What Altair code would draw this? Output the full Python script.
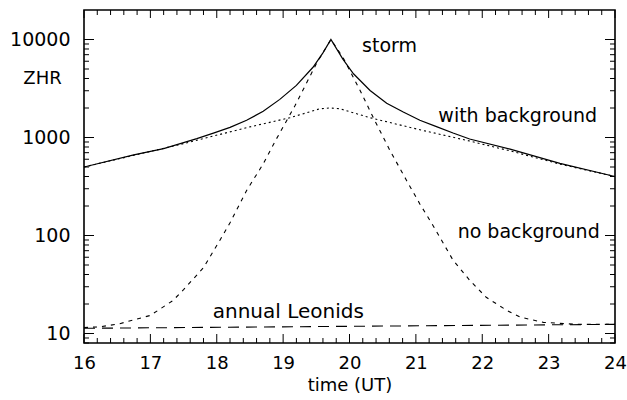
import altair as alt
import pandas as pd

# ZHR profiles of the Leonid storm (time in hours UT)
t_with = [16.0, 16.75, 17.2, 17.45, 17.7, 17.95, 18.2, 18.45, 18.7, 18.95, 19.2, 19.45,
          19.6, 19.72, 19.9, 20.06, 20.31, 20.56, 20.81, 21.06, 21.31, 21.56, 21.81,
          22.42, 23.17, 24.0]
zhr_with = [500, 665, 770, 865, 975, 1110, 1270, 1500, 1850, 2450, 3400, 5210,
            7300, 10000, 6300, 4470, 3020, 2240, 1820, 1500, 1290, 1110, 965,
            760, 545, 400]

t_bg = [16.0, 17.45, 18.45, 19.1, 19.55, 19.7, 19.85, 20.31, 21.06, 21.81,
        22.42, 23.17, 24.0]
zhr_bg = [500, 850, 1260, 1590, 1960, 2000, 1970, 1590, 1200, 920,
          730, 535, 400]

t_storm = [16.0, 16.24, 16.54, 17.0, 17.34, 17.5, 17.8, 18.05, 18.2, 18.45,
           18.7, 18.9, 19.18, 19.5, 19.72, 19.9, 20.16, 20.38, 20.61, 20.86,
           21.06, 21.26, 21.56, 21.81, 22.06, 22.37, 22.57, 22.92, 23.42, 24.0]
zhr_storm = [11.5, 11.7, 12.6, 15.3, 21.7, 28, 47, 90, 135, 288,
             538, 970, 2120, 5650, 10000, 6600, 3020, 1490, 736, 364,
             210, 126, 56, 35, 23.4, 17.2, 14.7, 13.0, 12.4, 12.4]

t_annual = [16.0, 24.0]
zhr_annual = [11.3, 12.4]

label_text = ["storm", "with background", "no background", "annual Leonids"]
label_t = [20.19, 23.73, 23.77, 17.94]
label_zhr = [8500, 1675, 108, 16.5]
label_align = ["left", "right", "right", "left"]
label_size = [19, 19, 19, 20]

x_major = [16, 17, 18, 19, 20, 21, 22, 23, 24]
x_minor = [round(h + f, 1) for h in range(16, 24) for f in (0.2, 0.4, 0.6, 0.8)]
y_major = [10, 100, 1000, 10000]
y_minor = [8, 9] + [m * d for d in (10, 100, 1000) for m in range(2, 10)]

W, H = 531, 333
FONT = "DejaVu Sans"

xscale = alt.Scale(domain=[16, 24], nice=False, zero=False)
yscale = alt.Scale(type="log", domain=[8, 20000], nice=False)


def series(t, z):
    return pd.DataFrame({"t": t, "zhr": z})


X = alt.X("t:Q", scale=xscale, axis=None)
Y = alt.Y("zhr:Q", scale=yscale, axis=None)
line_base = dict(color="black", clip=True)

solid = alt.Chart(series(t_with, zhr_with)).mark_line(strokeWidth=1.2, **line_base).encode(
    x=alt.X("t:Q", scale=xscale,
            axis=alt.Axis(orient="bottom", values=x_major, format="d", ticks=False,
                          domain=False, grid=False, labelFlush=False, labelOverlap=False,
                          labelFontSize=18, labelFont=FONT,
                          labelColor="black", labelPadding=11, title="time (UT)",
                          titleFont=FONT, titleFontSize=18, titleFontWeight="normal",
                          titleColor="black", titleBaseline="middle", titleY=42)),
    y=alt.Y("zhr:Q", scale=yscale,
            axis=alt.Axis(orient="left", values=y_major, format="d", ticks=False,
                          domain=False, grid=False, labelOverlap=False,
                          labelFontSize=19, labelFont=FONT,
                          labelColor="black", labelPadding=14, title="ZHR",
                          titleFont=FONT, titleFontSize=18, titleFontWeight="normal",
                          titleColor="black", titleAngle=0, titleAlign="center",
                          titleBaseline="middle", titleX=-42, titleY=68)),
    order="t:Q",
)

background = alt.Chart(series(t_bg, zhr_bg)).mark_line(
    strokeWidth=1.1, strokeDash=[2, 3], **line_base).encode(x=X, y=Y, order="t:Q")

storm = alt.Chart(series(t_storm, zhr_storm)).mark_line(
    strokeWidth=1.1, strokeDash=[4, 5], **line_base).encode(x=X, y=Y, order="t:Q")

annual = alt.Chart(series(t_annual, zhr_annual)).mark_line(
    strokeWidth=1.1, strokeDash=[11, 7], **line_base).encode(x=X, y=Y, order="t:Q")

labels_df = pd.DataFrame({"text": label_text, "t": label_t, "zhr": label_zhr,
                          "align": label_align, "size": label_size})


def label_layer(align):
    return alt.Chart(labels_df).transform_filter(
        alt.datum.align == align
    ).mark_text(align=align, baseline="middle", font=FONT, color="black").encode(
        x=X, y=Y, text="text:N",
        size=alt.Size("size:Q", scale=None, legend=None),
    )


# inward tick marks on all four sides of the frame
def y_ticks(values, x0, x1):
    return alt.Chart(pd.DataFrame({"zhr": values})).mark_rule(
        color="black", strokeWidth=1).encode(y=Y, x=alt.value(x0), x2=alt.value(x1))


def x_ticks(values, y0, y1):
    return alt.Chart(pd.DataFrame({"t": values})).mark_rule(
        color="black", strokeWidth=1).encode(x=X, y=alt.value(y0), y2=alt.value(y1))


ticks = [
    y_ticks(y_major, 0, 10), y_ticks(y_minor, 0, 5),
    y_ticks(y_major, W, W - 10), y_ticks(y_minor, W, W - 5),
    x_ticks(x_major, H, H - 9), x_ticks(x_minor, H, H - 5),
    x_ticks(x_major, 0, 8), x_ticks(x_minor, 0, 5),
]

chart = alt.layer(
    solid, background, storm, annual, label_layer("left"), label_layer("right"), *ticks
).resolve_axis(
    x="independent", y="independent"
).properties(
    width=W, height=H,
    padding={"left": 84, "top": 10, "right": 12, "bottom": 57},
    autosize=alt.AutoSizeParams(type="none"),
    background="white",
).configure_view(stroke="black", strokeWidth=1.6)

chart.save("out.html", embed_options={"renderer": "svg", "actions": False})
